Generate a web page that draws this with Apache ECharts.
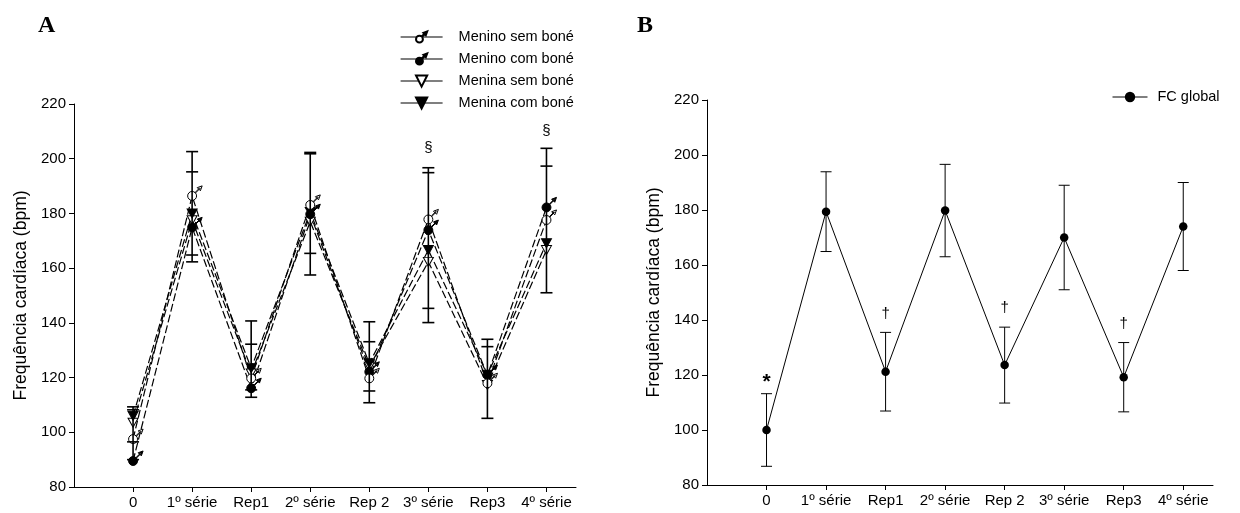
<!DOCTYPE html>
<html>
<head>
<meta charset="utf-8">
<title>Frequência cardíaca</title>
<script src="https://cdn.jsdelivr.net/npm/echarts@6/dist/echarts.min.js"></script>
<style>
  html, body { margin: 0; padding: 0; background: #fff; }
  #chart { width: 1240px; height: 513px; }
</style>
</head>
<body>
<div id="chart"></div>
<script>
// Measurement moments (x axis of both panels)
const categories = ['0', '1º série', 'Rep1', '2º série', 'Rep 2', '3º série', 'Rep3', '4º série'];
const yTicks = [80, 100, 120, 140, 160, 180, 200, 220];

// Panel A: heart rate (bpm) by group
const meninoSemBone = [97.5, 186.4, 119.7, 183.1, 119.7, 177.8, 117.9, 177.6];
const meninoComBone = [89.5, 174.9, 116.1, 179.7, 122.1, 173.9, 120.9, 182.2];
const meninaSemBone = [103.5, 177.5, 121.5, 177.0, 124.0, 162.3, 117.3, 166.6];
const meninaComBone = [106.0, 180.0, 123.4, 180.5, 125.2, 166.6, 121.0, 169.1];
// Panel A: error-bar cap values at each moment
const errCapsA = [
  [109.3, 108.2, 96.5, 90.0],
  [202.6, 195.2, 164.8, 162.3],
  [140.7, 132.2, 115.5, 112.8],
  [202.3, 201.8, 165.4, 157.5],
  [140.4, 133.1, 115.1, 110.8],
  [196.7, 194.9, 145.3, 140.1],
  [134.0, 131.3, 105.1],
  [203.8, 197.3, 151.0]
];
const markCatsA = [5, 7];
const markTextA = ['§', '§'];

// Panel B: overall heart rate, mean and SD
const fcGlobal = [100.0, 179.4, 121.2, 179.8, 123.6, 170.0, 119.2, 174.0];
const sdGlobal = [13.2, 14.5, 14.3, 16.8, 13.8, 19.0, 12.6, 16.0];
const markCatsB = [0, 2, 4, 6];
const markTextB = ['*', '†', '†', '†'];

const FONT = '"Liberation Sans", Arial, sans-serif';
const BLACK = '#000';

// male sign: circle with an arrow pointing up-right
const MALE = 'path://M0,9A4,4,0,1,1,8,9A4,4,0,1,1,0,9Z' +
  'M6.62,5.96L10.79,1.79L11.21,2.21L7.04,6.38Z' +
  'M13,0L8.6,1.6L11.4,4.4Z';
const TRI_DOWN = 'path://M0,0L10,0L5,9Z';

const pairs = arr => arr.map((v, i) => [i, v]);

function xAxisFor(grid) {
  return {
    type: 'value', gridIndex: grid, min: -1, max: 7.5,
    axisLine: { show: true, onZero: false, lineStyle: { color: BLACK, width: 1 } },
    axisTick: { show: true, length: 5, customValues: categories.map((c, i) => i), lineStyle: { color: BLACK } },
    axisLabel: {
      customValues: categories.map((c, i) => i),
      formatter: v => categories[Math.round(v)] ?? '',
      color: BLACK, fontFamily: FONT, fontSize: 15, margin: 8
    },
    splitLine: { show: false }
  };
}
function yAxisFor(grid) {
  return {
    type: 'value', gridIndex: grid, min: yTicks[0], max: yTicks[yTicks.length - 1], interval: 20,
    name: 'Frequência cardíaca (bpm)', nameLocation: 'middle', nameRotate: 90, nameGap: 44,
    nameTextStyle: { color: BLACK, fontFamily: FONT, fontSize: 17.5 },
    axisLine: { show: true, onZero: false, lineStyle: { color: BLACK, width: 1 } },
    axisTick: { show: true, length: 5, lineStyle: { color: BLACK } },
    axisLabel: { color: BLACK, fontFamily: FONT, fontSize: 15, margin: 8 },
    splitLine: { show: false }
  };
}

function groupSeries(name, values, symbol, size, offset, filled) {
  return {
    name, type: 'line', xAxisIndex: 0, yAxisIndex: 0,
    data: pairs(values),
    symbol, symbolSize: size, symbolOffset: offset, showAllSymbol: true,
    lineStyle: { color: BLACK, width: 1.2, type: [8, 3] },
    itemStyle: { color: filled ? BLACK : '#fff', borderColor: BLACK, borderWidth: 1, opacity: 1 },
    emphasis: { disabled: true },
    z: 2
  };
}

// vertical error bar with a cap at every listed value
function capsRenderer(capList, halfWidth, lineWidth) {
  return function (params, api) {
    const i = params.dataIndex;
    const caps = capList[i];
    const hi = Math.max(...caps), lo = Math.min(...caps);
    const pTop = api.coord([i, hi]);
    const pBot = api.coord([i, lo]);
    const style = { stroke: BLACK, lineWidth: lineWidth };
    const children = [{ type: 'line', shape: { x1: pTop[0], y1: pTop[1], x2: pBot[0], y2: pBot[1] }, style }];
    caps.forEach(c => {
      const p = api.coord([i, c]);
      children.push({ type: 'line', shape: { x1: p[0] - halfWidth, y1: p[1], x2: p[0] + halfWidth, y2: p[1] }, style });
    });
    return { type: 'group', children };
  };
}

// significance marks drawn a fixed distance above the top of an error bar
function marksRenderer(cats, texts, tops, gaps, fonts) {
  return function (params, api) {
    const k = params.dataIndex;
    const p = api.coord([cats[k], tops[k]]);
    return {
      type: 'text',
      style: {
        x: p[0], y: p[1] - gaps[k], text: texts[k], align: 'center', verticalAlign: 'middle',
        fill: BLACK, font: fonts[k] + ' ' + FONT
      }
    };
  };
}

const topsA = markCatsA.map(c => Math.max(...errCapsA[c]));
const topsB = markCatsB.map(c => fcGlobal[c] + sdGlobal[c]);

const chart = echarts.init(document.getElementById('chart'), null, { renderer: 'canvas' });

chart.setOption({
  backgroundColor: '#fff',
  animation: false,
  grid: [
    { left: 74, top: 104, width: 502, height: 383 },
    { left: 707, top: 100, width: 506, height: 385 }
  ],
  xAxis: [xAxisFor(0), xAxisFor(1)],
  yAxis: [yAxisFor(0), yAxisFor(1)],
  legend: [
    {
      data: ['Menino sem boné', 'Menino com boné', 'Menina sem boné', 'Menina com boné'],
      orient: 'vertical', left: 400, top: 29.5, padding: 0,
      itemWidth: 42, itemHeight: 14, itemGap: 7,
      selectedMode: false,
      lineStyle: { type: 'solid', width: 1.2 },
      textStyle: { color: BLACK, fontFamily: FONT, fontSize: 14.5, lineHeight: 14, padding: [0, 0, 0, 11] }
    },
    {
      data: ['FC global'],
      orient: 'vertical', left: 1112, top: 89.5, padding: 0,
      itemWidth: 35, itemHeight: 13,
      selectedMode: false,
      lineStyle: { type: 'solid', width: 1 },
      textStyle: { color: BLACK, fontFamily: FONT, fontSize: 14.5, lineHeight: 13, padding: [0, 0, 0, 5] }
    }
  ],
  graphic: [
    { type: 'text', left: 38, top: 14, style: { text: 'A', fill: BLACK, font: 'bold 24px "Liberation Serif", "Times New Roman", serif' } },
    { type: 'text', left: 637, top: 14, style: { text: 'B', fill: BLACK, font: 'bold 24px "Liberation Serif", "Times New Roman", serif' } }
  ],
  series: [
    groupSeries('Menina sem boné', meninaSemBone, TRI_DOWN, [10, 9], [0, 0], false),
    groupSeries('Menina com boné', meninaComBone, TRI_DOWN, [10, 9], [0, 0], true),
    groupSeries('Menino com boné', meninoComBone, MALE, 14.5, [2.8, -2.8], true),
    groupSeries('Menino sem boné', meninoSemBone, MALE, 14.5, [2.8, -2.8], false),
    {
      name: 'errA', type: 'custom', xAxisIndex: 0, yAxisIndex: 0,
      data: errCapsA.map((c, i) => [i, Math.min(...c), Math.max(...c)]),
      encode: { x: 0, y: [1, 2] },
      renderItem: capsRenderer(errCapsA, 6, 1.6),
      silent: true, z: 3
    },
    {
      name: 'marksA', type: 'custom', xAxisIndex: 0, yAxisIndex: 0,
      data: markCatsA.map((c, k) => [c, topsA[k]]),
      encode: { x: 0, y: 1 },
      renderItem: marksRenderer(markCatsA, markTextA, topsA, [20, 17], ['15px', '15px']),
      silent: true, z: 3
    },
    {
      name: 'FC global', type: 'line', xAxisIndex: 1, yAxisIndex: 1,
      data: pairs(fcGlobal),
      symbol: 'circle', symbolSize: 8.5,
      lineStyle: { color: BLACK, width: 1 },
      itemStyle: { color: BLACK, borderColor: BLACK, borderWidth: 0 },
      emphasis: { disabled: true },
      z: 2
    },
    {
      name: 'errB', type: 'custom', xAxisIndex: 1, yAxisIndex: 1,
      data: fcGlobal.map((m, i) => [i, m - sdGlobal[i], m + sdGlobal[i]]),
      encode: { x: 0, y: [1, 2] },
      renderItem: capsRenderer(fcGlobal.map((m, i) => [m + sdGlobal[i], m - sdGlobal[i]]), 5.5, 1),
      silent: true, z: 1
    },
    {
      name: 'marksB', type: 'custom', xAxisIndex: 1, yAxisIndex: 1,
      data: markCatsB.map((c, k) => [c, topsB[k]]),
      encode: { x: 0, y: 1 },
      renderItem: marksRenderer(markCatsB, markTextB, topsB, [11, 19, 19, 19], ['bold 21px', '15px', '15px', '15px']),
      silent: true, z: 3
    }
  ]
});
</script>
</body>
</html>
